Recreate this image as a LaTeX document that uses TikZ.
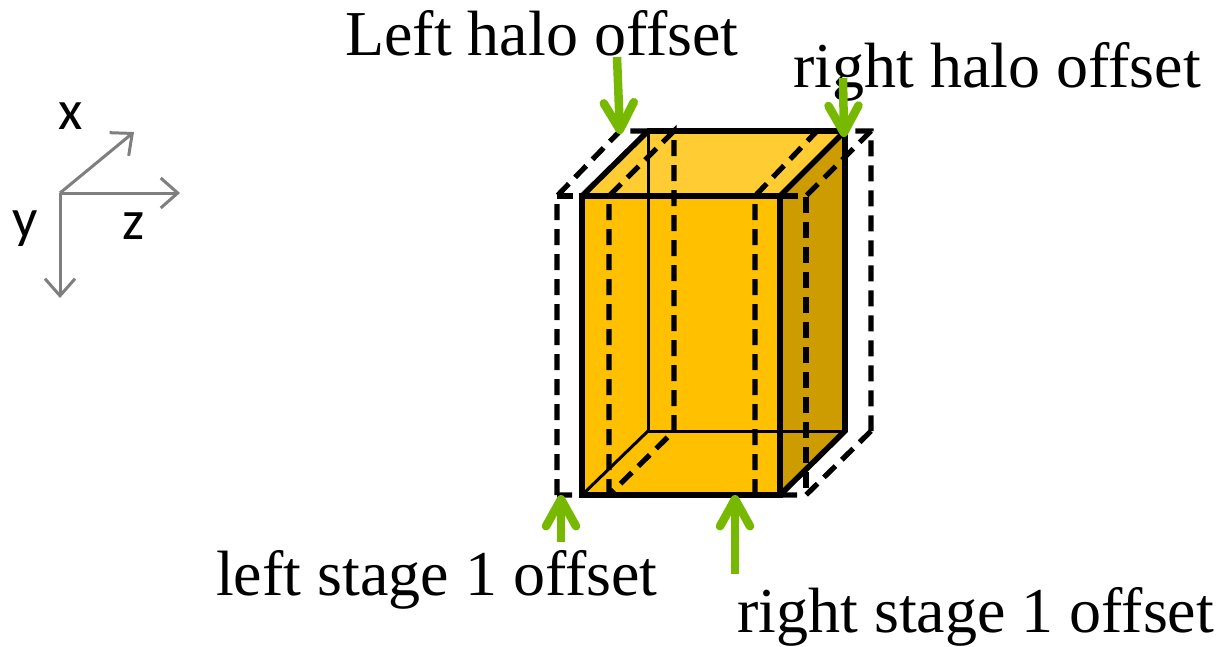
\documentclass[tikz,border=0pt]{standalone}
\usepackage{fontspec}
\setmainfont{Liberation Serif}
\newfontfamily\axfont{Carlito}
\usetikzlibrary{arrows.meta}
\definecolor{frontc}{HTML}{FFC000}
\definecolor{topc}{HTML}{FFCC33}
\definecolor{sidec}{HTML}{CC9C00}
\definecolor{greenc}{HTML}{76B900}
\definecolor{axisc}{HTML}{7F7F7F}
\tikzset{
  thickedge/.style={line width=5.6pt,line cap=butt,line join=miter},
  thinedge/.style={line width=3pt},
  halo/.style={line width=5.2pt,dash pattern=on 16pt off 9pt},
  pointer/.style={line width=8.5pt,greenc,-{Straight Barb[round,length=27pt,width=30pt]}},
  axisline/.style={line width=3pt,axisc,-{Straight Barb[length=17pt,width=30pt,line width=3pt]}},
  lab/.style={font=\fontsize{64}{64}\selectfont,anchor=base west,inner sep=0pt},
  axlab/.style={font=\axfont\fontsize{56}{56}\selectfont,anchor=center,inner sep=0pt},
}
\begin{document}
\begin{tikzpicture}[x=1pt,y=-1pt]
\useasboundingbox (0,0) rectangle (1220,646);
% faces
\fill[frontc] (582,196) rectangle (780,495);
\fill[topc] (582,196) -- (648,131) -- (845,131) -- (780,196) -- cycle;
\fill[sidec] (780,196) -- (845,131) -- (845,431) -- (780,495) -- cycle;
% hidden solid edges
\draw[thinedge] (648,131) -- (648,431) -- (845,431);
\draw[thinedge] (648,431) -- (582,495);
% dashed halo box
\draw[halo] (557,495) -- (557,196) -- (620,131) -- (871,131) -- (871,431);
\draw[halo] (871,131) -- (806,196);
\draw[halo] (557,196) -- (806,196) -- (806,495);
\draw[halo] (871,431) -- (806,495) -- (557,495);
% dashed stage-1 lines
\draw[halo] (609,495) -- (609,196) -- (674,131) -- (674,431) -- (609,495);
\draw[halo] (755,495) -- (755,196) -- (817,131);
% solid box
\draw[thickedge] (582,196) rectangle (780,495);
\draw[thickedge] (582,196) -- (648,131) -- (845,131) -- (845,431) -- (780,495);
\draw[thickedge] (780,196) -- (845,131);
% labels
\node[lab] (lh) at (345,55) {Left halo offset};
\node[lab] (rh) at (793,87) {right halo offset};
\node[lab] (ls) at (216,595) {left stage 1 offset};
\node[lab] (rs) at (737,632) {right stage 1 offset};
% pointers
\coordinate (lhs) at (617,57);
\coordinate (lht) at (620,134);
\coordinate (rhs) at (843,78);
\coordinate (rht) at (844,137);
\coordinate (lss) at (561,542);
\coordinate (lst) at (561,495);
\coordinate (rss) at (735,574);
\coordinate (rst) at (735,495);
\draw[pointer] (lhs) -- (lht);
\draw[pointer] (rhs) -- (rht);
\draw[pointer] (lss) -- (lst);
\draw[pointer] (rss) -- (rst);
% axes
\coordinate (o) at (60,193);
\coordinate (ax) at (134,132);
\coordinate (az) at (180,193);
\coordinate (ay) at (60,298);
\draw[axisline] (o) -- (ax);
\draw[axisline] (o) -- (az);
\draw[axisline] (o) -- (ay);
\node[axlab] (xl) at (71,116) {x};
\node[axlab] (yl) at (25,229) {y};
\node[axlab] (zl) at (134,226) {z};
\end{tikzpicture}
\end{document}
